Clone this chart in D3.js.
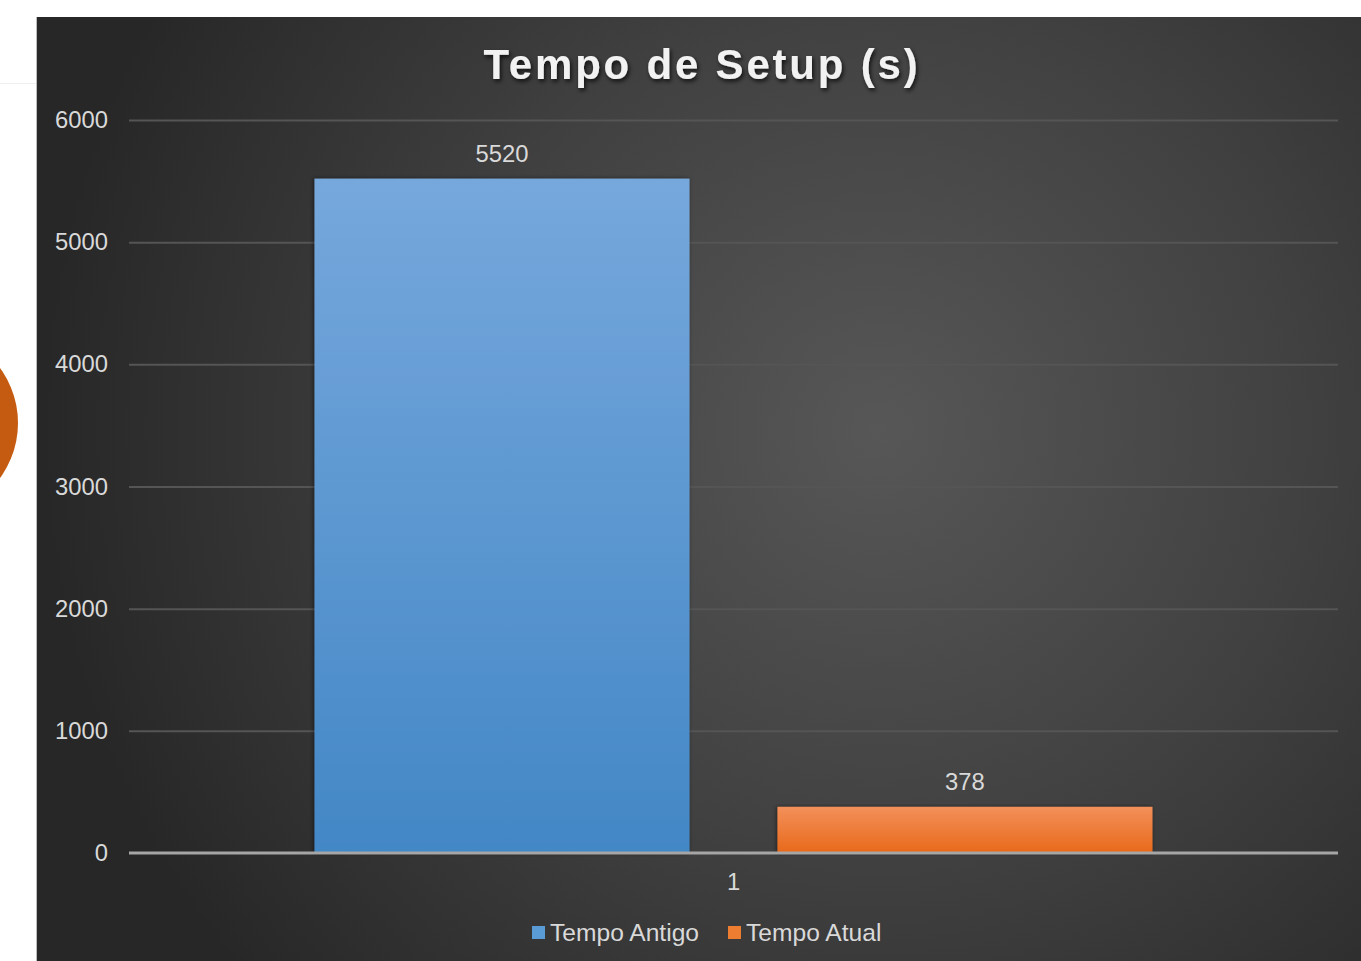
<!DOCTYPE html>
<html><head><meta charset="utf-8">
<script src="https://cdn.jsdelivr.net/npm/d3@7"></script>
<style>html,body{margin:0;padding:0;background:#fff;overflow:hidden}svg{display:block}</style>
</head><body>
<svg id="c" width="1361" height="961"></svg>
<script>
const categories = ["1"];
const seriesNames = ["Tempo Antigo", "Tempo Atual"];
const seriesValues = [[5520], [378]];
const yTicks = [0, 1000, 2000, 3000, 4000, 5000, 6000];
const chartTitle = "Tempo de Setup (s)";
const colorsTop = ["#76a8dc", "#f3905a"];
const colorsBot = ["#4387c6", "#e8691a"];
const legendColors = ["#5b9bd5", "#ed7d31"];

(function(){
const svg = d3.select("#c");
const W = 1361, H = 961;
const defs = svg.append("defs");

const rg = defs.append("radialGradient").attr("id","bg").attr("gradientUnits","userSpaceOnUse")
  .attr("cx",880).attr("cy",430).attr("r",840);
rg.append("stop").attr("offset","0%").attr("stop-color","#575757");
rg.append("stop").attr("offset","50%").attr("stop-color","#414141");
rg.append("stop").attr("offset","100%").attr("stop-color","#272727");

seriesNames.forEach((s,i)=>{
  const lg = defs.append("linearGradient").attr("id","bar"+i).attr("x1",0).attr("y1",0).attr("x2",0).attr("y2",1);
  lg.append("stop").attr("offset","0%").attr("stop-color",colorsTop[i]);
  lg.append("stop").attr("offset","100%").attr("stop-color",colorsBot[i]);
});
const sh = defs.append("filter").attr("id","sh").attr("x","-5%").attr("y","-5%").attr("width","110%").attr("height","110%");
sh.append("feDropShadow").attr("dx",-1).attr("dy",0).attr("stdDeviation",2).attr("flood-color","#000").attr("flood-opacity",0.5);
const ts = defs.append("filter").attr("id","ts").attr("x","-10%").attr("y","-30%").attr("width","120%").attr("height","160%");
ts.append("feDropShadow").attr("dx",1.5).attr("dy",2.5).attr("stdDeviation",2).attr("flood-color","#000").attr("flood-opacity",0.75);

svg.append("line").attr("x1",0).attr("x2",37).attr("y1",83.5).attr("y2",83.5).attr("stroke","#eeeeee").attr("stroke-width",1);
svg.append("circle").attr("cx",-75).attr("cy",423).attr("r",93).attr("fill","#c55a11");

svg.append("rect").attr("x",37).attr("y",17).attr("width",W-37).attr("height",H-17).attr("fill","url(#bg)");
svg.append("line").attr("x1",36.5).attr("x2",36.5).attr("y1",17).attr("y2",H).attr("stroke","#bdbdbd").attr("stroke-width",1);

const pl = 129, pr = 1338, pt = 120, pb = 853;
const y = d3.scaleLinear().domain([0,6000]).range([pb, pt]);
const x0 = d3.scaleBand().domain(categories).range([pl,pr]).paddingInner(0).paddingOuter(0.2214);
const x1 = d3.scaleBand().domain(seriesNames).range([0, x0.bandwidth()]).paddingInner(0.19).paddingOuter(0);

const grid = svg.append("g").attr("transform",`translate(${pl},0)`)
  .call(d3.axisRight(y).tickValues(yTicks.filter(t=>t>0)).tickSize(pr-pl).tickFormat(""));
grid.select(".domain").remove();
grid.selectAll(".tick line").attr("stroke","#555555").attr("stroke-width",2);

const yAx = svg.append("g").attr("transform",`translate(108,0)`)
  .call(d3.axisLeft(y).tickValues(yTicks).tickSize(0).tickPadding(0).tickFormat(d3.format("d")));
yAx.select(".domain").remove();
yAx.selectAll("text").attr("fill","#d9d9d9").attr("font-family","Liberation Sans, Arial, sans-serif").attr("font-size",23.8).attr("text-anchor","end");

const g = svg.append("g");
categories.forEach((c,ci)=>{
  seriesNames.forEach((s,si)=>{
    const v = seriesValues[si][ci];
    const bx = x0(c) + x1(s);
    g.append("rect").attr("x",bx).attr("y",y(v)).attr("width",x1.bandwidth()).attr("height",y(0)-y(v))
      .attr("fill",`url(#bar${si})`).attr("filter","url(#sh)");
    g.append("text").attr("x",bx + x1.bandwidth()/2).attr("y",y(v)-17).attr("text-anchor","middle")
      .attr("fill","#d9d9d9").attr("font-family","Liberation Sans, Arial, sans-serif").attr("font-size",23.8).text(v);
  });
});

svg.append("line").attr("x1",pl).attr("x2",pr).attr("y1",y(0)).attr("y2",y(0)).attr("stroke","#a6a6a6").attr("stroke-width",3);
const xAx = svg.append("g").attr("transform",`translate(0,${y(0)})`)
  .call(d3.axisBottom(x0).tickSize(0).tickPadding(20));
xAx.select(".domain").remove();
xAx.selectAll("text").attr("fill","#d9d9d9").attr("font-family","Liberation Sans, Arial, sans-serif").attr("font-size",23.8);

svg.append("text").attr("x",702).attr("y",79).attr("text-anchor","middle").attr("fill","#f2f2f2")
  .attr("font-family","Liberation Sans, Arial, sans-serif").attr("font-weight","bold").attr("font-size",42)
  .attr("letter-spacing",2.8).attr("filter","url(#ts)").text(chartTitle);

const legendX = [532, 728];
seriesNames.forEach((s,i)=>{
  svg.append("rect").attr("x",legendX[i]).attr("y",926).attr("width",13).attr("height",13).attr("fill",legendColors[i]);
  svg.append("text").attr("x",legendX[i]+18).attr("y",941).attr("fill","#d9d9d9")
    .attr("font-family","Liberation Sans, Arial, sans-serif").attr("font-size",24.6).text(s);
});
})();
</script>
</body></html>
